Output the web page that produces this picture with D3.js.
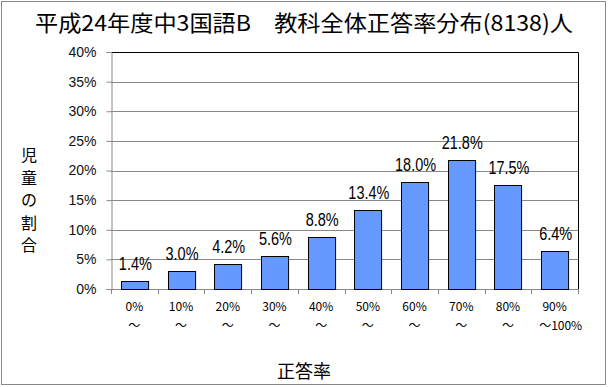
<!DOCTYPE html>
<html><head><meta charset="utf-8">
<script src="https://cdn.jsdelivr.net/npm/d3@7"></script>
<style>
body{margin:0;background:#fff;}
text{font-family:"Liberation Sans","DejaVu Sans",sans-serif;}
.jp{font-family:"Noto Sans CJK JP",sans-serif;}
</style></head>
<body><svg id="c" width="608" height="387"></svg>
<script>
// data
const categories = ['0%', '10%', '20%', '30%', '40%', '50%', '60%', '70%', '80%', '90%'];
const subLabels  = ['〜', '〜', '〜', '〜', '〜', '〜', '〜', '〜', '〜', '〜100%'];
const values     = [1.4, 3.0, 4.2, 5.6, 8.8, 13.4, 18.0, 21.8, 17.5, 6.4];
const yTicks     = [0, 5, 10, 15, 20, 25, 30, 35, 40];

const svg = d3.select('#c');
const M = { left: 111, right: 578, top: 52, bottom: 289 };

// outer frame
svg.append('rect').attr('x', 1.5).attr('y', 1.5).attr('width', 604).attr('height', 383)
  .attr('fill', '#fff').attr('stroke', '#888').attr('stroke-width', 1);

const x = d3.scaleBand().domain(categories).range([M.left, M.right]).paddingInner(0.42).paddingOuter(0.21);
const y = d3.scaleLinear().domain([0, 40]).range([M.bottom, M.top]);

// gridlines
svg.append('g').selectAll('line').data(yTicks.slice(1, -1)).enter().append('line')
  .attr('x1', M.left).attr('x2', M.right)
  .attr('y1', d => Math.round(y(d)) + 0.5).attr('y2', d => Math.round(y(d)) + 0.5)
  .attr('stroke', '#888');
// plot border top / right
svg.append('path')
  .attr('d', `M${M.left},${M.top + 0.5}H${M.right + 0.5}V${M.bottom}`)
  .attr('fill', 'none').attr('stroke', '#000');

// y axis
const yAxis = svg.append('g').attr('transform', `translate(${M.left + 0.5},0)`)
  .call(d3.axisLeft(y).tickValues(yTicks).tickFormat(d => d + '%').tickSize(5).tickPadding(10));
yAxis.select('.domain').attr('stroke', '#888');
yAxis.selectAll('.tick line').attr('stroke', '#888');
yAxis.selectAll('.tick text').attr('font-size', 14).attr('fill', '#111')
  .attr('font-family', '"DejaVu Sans Condensed","DejaVu Sans",sans-serif');

// x axis: ticks at band boundaries
const step = (M.right - M.left) / categories.length;
const bounds = d3.range(categories.length + 1).map(i => M.left + i * step);
svg.append('line').attr('x1', M.left).attr('x2', M.right + 0.5)
  .attr('y1', M.bottom + 0.5).attr('y2', M.bottom + 0.5).attr('stroke', '#888');
svg.append('g').selectAll('line').data(bounds).enter().append('line')
  .attr('x1', d => Math.round(d) + 0.5).attr('x2', d => Math.round(d) + 0.5)
  .attr('y1', M.bottom).attr('y2', M.bottom + 5).attr('stroke', '#888');

// bars
svg.append('g').selectAll('rect').data(values).enter().append('rect')
  .attr('x', (d, i) => Math.round(x(categories[i])) + 0.5)
  .attr('y', d => Math.round(y(d)) + 0.5)
  .attr('width', x.bandwidth())
  .attr('height', d => M.bottom - Math.round(y(d)))
  .attr('fill', '#6699ff').attr('stroke', '#000').attr('stroke-width', 1);

// value labels
svg.append('g').selectAll('text').data(values).enter().append('text')
  .attr('x', (d, i) => x(categories[i]) + x.bandwidth() / 2 + 1)
  .attr('y', d => y(d) - 11)
  .attr('text-anchor', 'middle').attr('font-size', 18).attr('fill', '#000')
  .attr('textLength', d => (d >= 10 ? 41 : 33)).attr('lengthAdjust', 'spacingAndGlyphs')
  .text(d => d.toFixed(1) + '%');

// category labels
const catG = svg.append('g');
catG.selectAll('text.c').data(categories).enter().append('text').attr('class', 'c jp')
  .attr('x', (d, i) => x(d) + x.bandwidth() / 2).attr('y', 311)
  .attr('text-anchor', 'middle').attr('font-size', 12).attr('fill', '#000')
  .text(d => d);
catG.selectAll('text.s').data(subLabels).enter().append('text').attr('class', 's jp')
  .attr('x', (d, i) => x(categories[i]) + x.bandwidth() / 2 + (d.length > 1 ? 6 : 0)).attr('y', 330)
  .attr('text-anchor', 'middle').attr('font-size', 12).attr('fill', '#000')
  .text(d => d);

// titles
svg.append('text').attr('class', 'jp').attr('x', 304).attr('y', 31)
  .attr('text-anchor', 'middle').attr('font-size', 22).attr('fill', '#000')
  .attr('textLength', 538).attr('lengthAdjust', 'spacingAndGlyphs')
  .text('平成24年度中3国語B　教科全体正答率分布(8138)人');
svg.append('text').attr('class', 'jp').attr('x', 304).attr('y', 378)
  .attr('text-anchor', 'middle').attr('font-size', 18).attr('fill', '#000')
  .text('正答率');
const yTitle = '児童の割合'.split('');
svg.append('g').selectAll('text').data(yTitle).enter().append('text').attr('class', 'jp')
  .attr('x', 29).attr('y', (d, i) => 161 + i * 22.5)
  .attr('text-anchor', 'middle').attr('font-size', 16).attr('fill', '#000')
  .text(d => d);
</script></body></html>
